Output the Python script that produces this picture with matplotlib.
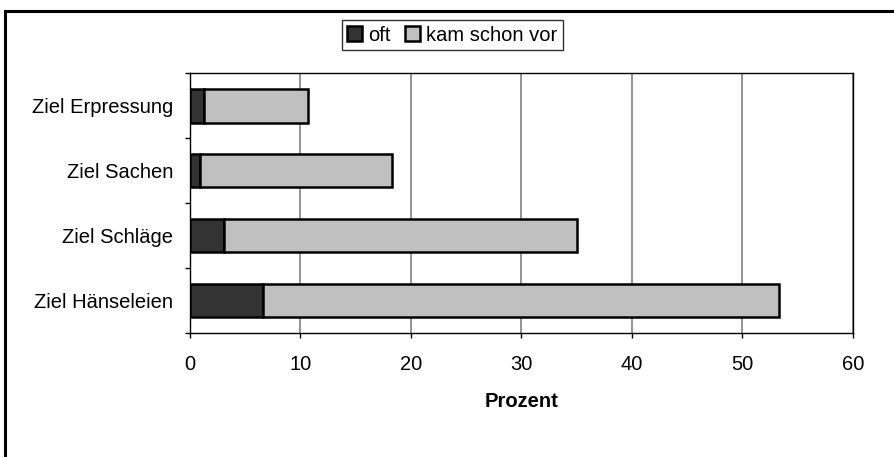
import matplotlib
matplotlib.use("Agg")
import matplotlib.pyplot as plt
from matplotlib.patches import Rectangle

plt.rcParams['font.family'] = ['Liberation Sans', 'DejaVu Sans']

categories = ["Ziel Hänseleien", "Ziel Schläge", "Ziel Sachen", "Ziel Erpressung"]
oft = [6.6, 3.1, 0.9, 1.3]
kam_schon_vor = [46.7, 31.9, 17.4, 9.4]
series_names = ["oft", "kam schon vor"]
xticks = [0, 10, 20, 30, 40, 50, 60]
xlabel = "Prozent"

FS = 14.5

fig = plt.figure(figsize=(8.95, 4.57), dpi=100)
ax = fig.add_axes([0.2123, 0.2713, 0.953 - 0.2123, 0.840 - 0.2713])

y = list(range(len(categories)))
ax.barh(y, oft, height=0.52, color="#333333", edgecolor="black", linewidth=1.8,
        label=series_names[0], zorder=3)
ax.barh(y, kam_schon_vor, left=oft, height=0.52, color="#c0c0c0", edgecolor="black",
        linewidth=1.8, label=series_names[1], zorder=3)

ax.set_xlim(0, 60)
ax.set_ylim(-0.5, len(categories) - 0.5)
ax.set_xticks(xticks)
ax.set_xticklabels([str(t) for t in xticks], fontsize=FS)
ax.set_yticks(y)
ax.set_yticklabels(categories, fontsize=FS)
ax.tick_params(axis='y', length=0, pad=12)
ax.set_yticks([i - 0.5 for i in range(len(categories) + 1)], minor=True)
ax.tick_params(axis='y', which='minor', length=3.5, width=1, color='black')
ax.tick_params(axis='x', length=3.5, width=1, color='black', pad=12)
ax.xaxis.grid(True, color="#808080", linewidth=1.2, zorder=0)
ax.set_axisbelow(True)
for s in ax.spines.values():
    s.set_color("black")
    s.set_linewidth(1.0)

ax.set_xlabel(xlabel, fontsize=FS, fontweight='bold', labelpad=13)

leg = ax.legend(loc='upper center', ncol=2, fontsize=FS, frameon=True, fancybox=False,
                edgecolor='black', handlelength=0.75, handleheight=0.75, handletextpad=0.3,
                columnspacing=0.7, borderpad=0.28, borderaxespad=0)
leg.set_bbox_to_anchor((0.5053, 1 - 20 / 457), transform=fig.transFigure)
leg.get_frame().set_linewidth(1.0)

border = Rectangle((5 / 895, -0.05), 1.1, 1 - 11 / 457 + 0.05, transform=fig.transFigure,
                   fill=False, edgecolor='black', linewidth=2.2, clip_on=False)
fig.patches.append(border)

fig.savefig("out.png", dpi=100)
